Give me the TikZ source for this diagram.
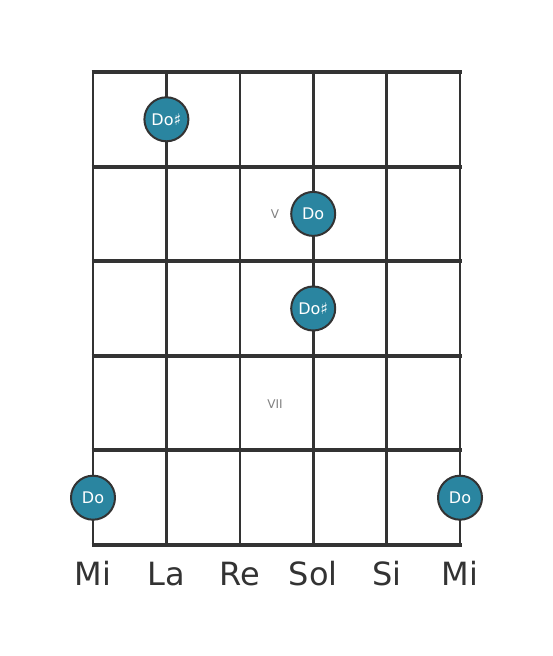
\documentclass[tikz,border=0pt]{standalone}
\usepackage{fontspec}
\setmainfont{DejaVu Sans}
\definecolor{notefill}{HTML}{2A85A0}
\definecolor{gridgray}{HTML}{333333}
\begin{document}
\begin{tikzpicture}[x=1pt,y=-1pt,line join=round,
  note/.style={circle,draw=gridgray,line width=2pt,fill=notefill,minimum size=44pt,inner sep=0pt,text=white,font=\fontsize{16}{16}\selectfont},
  fretno/.style={text=gray,font=\fontsize{12}{12}\selectfont},
  strname/.style={text=gridgray,font=\fontsize{32}{32}\selectfont}]
\useasboundingbox (0,0) rectangle (553,656);
% strings
\foreach \x in {93,166.4,239.8,313.2,386.6,460}
  \draw[gridgray,line width=2.6pt] (\x,72) -- (\x,545);
% frets
\foreach \y in {72,166.6,261.2,355.8,450.4,545}
  \draw[gridgray,line width=4pt] (91.5,\y) -- (461.5,\y);
% fret numbers
\node[fretno] (v) at (275,214) {V};
\node[fretno] (vii) at (275,404) {VII};
% notes
\node[note] (n1) at (166.4,119.3) {Do♯};
\node[note] (n2) at (313.2,213.9) {Do};
\node[note] (n3) at (313.2,308.5) {Do♯};
\node[note] (n4) at (93,497.7) {Do};
\node[note] (n5) at (460,497.7) {Do};
% string names
\foreach \x/\s [count=\i] in {93/Mi,166.4/La,239.8/Re,313.2/Sol,386.6/Si,460/Mi}
  \node[strname,anchor=base] (s\i) at (\x,585) {\s};
\end{tikzpicture}
\end{document}
